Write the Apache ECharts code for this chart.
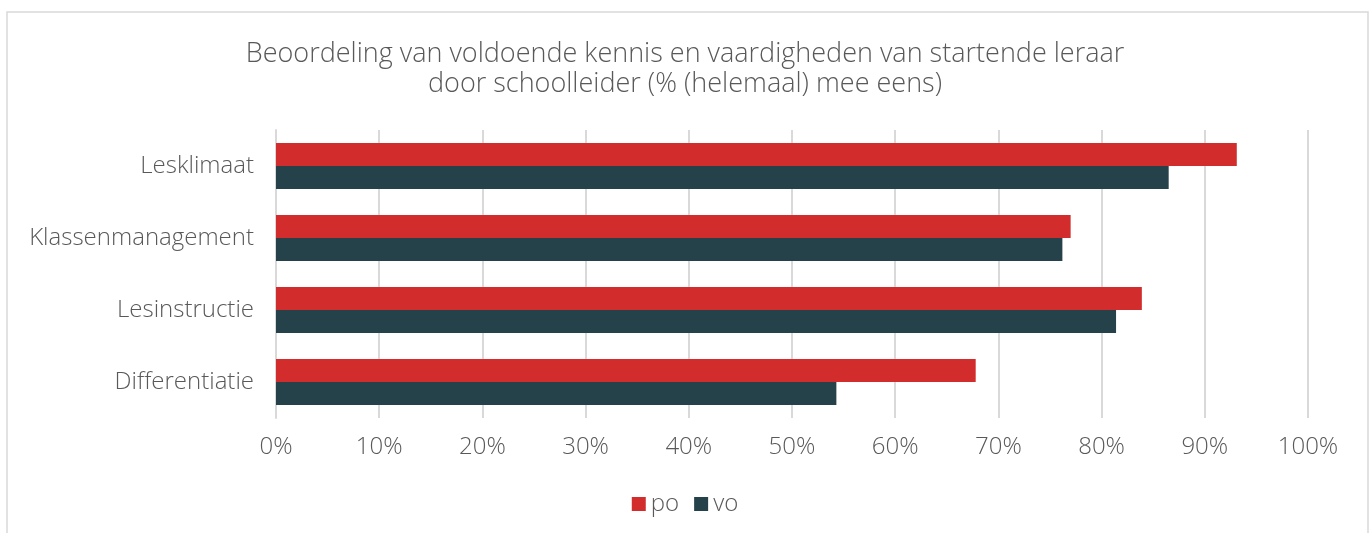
<!DOCTYPE html>
<html>
<head>
<meta charset="utf-8">
<script src="https://cdn.jsdelivr.net/npm/echarts@6/dist/echarts.min.js"></script>
<style>
  html, body { margin: 0; padding: 0; background: #fff; }
  #chart { width: 1370px; height: 533px; }
</style>
</head>
<body>
<div id="chart"></div>
<script>
var categories = ['Lesklimaat', 'Klassenmanagement', 'Lesinstructie', 'Differentiatie'];
var poValues = [93.1, 77.0, 83.9, 67.8];
var voValues = [86.5, 76.2, 81.4, 54.3];
var xTicks = [0, 10, 20, 30, 40, 50, 60, 70, 80, 90, 100];

var font = 'Open Sans';
var textColor = '#595959';

var dom = document.getElementById('chart');
var myChart = echarts.init(dom);

option = {
    backgroundColor: '#ffffff',
    title: {
        text: 'Beoordeling van voldoende kennis en vaardigheden van startende leraar\ndoor schoolleider (% (helemaal) mee eens)',
        left: 'center',
        top: 34,
        textStyle: {
            fontFamily: font,
            fontWeight: 300,
            fontSize: 27,
            lineHeight: 30,
            color: textColor
        }
    },
    graphic: [{
        type: 'rect',
        shape: { x: 7, y: 12, width: 1361, height: 600 },
        style: { fill: 'none', stroke: '#d9d9d9', lineWidth: 1.5 },
        silent: true
    }],
    legend: {
        data: ['po', 'vo'],
        top: 487,
        left: 'center',
        itemWidth: 14,
        itemHeight: 14,
        itemGap: 15,
        icon: 'rect',
        textStyle: {
            fontFamily: font,
            fontWeight: 300,
            fontSize: 24,
            color: textColor
        }
    },
    grid: {
        left: 276,
        right: 62,
        top: 130,
        height: 288,
        containLabel: false
    },
    xAxis: {
        type: 'value',
        min: 0,
        max: 100,
        interval: 10,
        axisLine: { show: false },
        axisTick: { show: false },
        splitLine: { lineStyle: { color: '#d9d9d9', width: 2 } },
        axisLabel: {
            margin: 17,
            fontFamily: font,
            fontWeight: 300,
            fontSize: 24,
            color: textColor,
            formatter: function (v) {
                return xTicks.indexOf(v) >= 0 ? v + '%' : '';
            }
        }
    },
    yAxis: {
        type: 'category',
        inverse: true,
        data: categories,
        axisLine: { show: true, lineStyle: { color: '#d9d9d9', width: 2 } },
        axisTick: { show: false },
        axisLabel: {
            margin: 22,
            fontFamily: font,
            fontWeight: 300,
            fontSize: 24,
            color: textColor
        }
    },
    series: [
        {
            name: 'po',
            type: 'bar',
            data: poValues,
            barGap: '0%',
            barCategoryGap: '36%',
            itemStyle: { color: '#d22d2c' }
        },
        {
            name: 'vo',
            type: 'bar',
            data: voValues,
            barGap: '0%',
            barCategoryGap: '36%',
            itemStyle: { color: '#25424a' }
        }
    ]
};

if (option && typeof option === 'object') {
    myChart.setOption(option, true);
}
</script>
</body>
</html>
